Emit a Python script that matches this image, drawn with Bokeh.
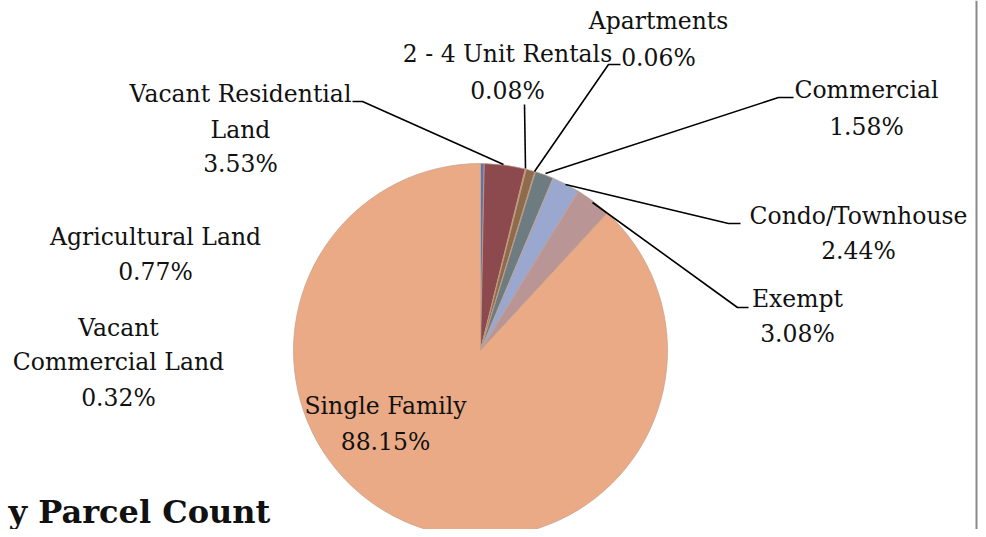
import numpy as np
from bokeh.plotting import figure
from bokeh.models import ColumnDataSource, Range1d
from bokeh.core.properties import value
from bokeh.embed import file_html
from bokeh.resources import INLINE

# ---- data (clockwise from 12 o'clock) ----
categories = ["Vacant Commercial Land", "Vacant Residential Land", "2 - 4 Unit Rentals",
              "Agricultural Land", "Apartments", "Commercial", "Condo/Townhouse",
              "Exempt", "Single Family"]
percents = [0.32, 3.53, 0.08, 0.77, 0.06, 1.58, 2.44, 3.08, 88.15]
colors = ["#5E73B0", "#8C4A4E", "#C9782F", "#8E6B4A", "#5F7D55", "#6D7C80",
          "#9AA7CF", "#B99596", "#EAAA86"]
title_text = "y Parcel Count"

W, H = 978, 529
SCR_H = 537  # picture height; data y = SCR_H - picture_y


def sy(y):
    return SCR_H - y


p = figure(width=W, height=H, output_backend="svg", toolbar_location=None,
           x_range=Range1d(0, W), y_range=Range1d(sy(H), sy(0)),
           min_border=0, min_border_left=0, min_border_right=0,
           min_border_top=0, min_border_bottom=0)
p.axis.visible = False
p.grid.visible = False
p.outline_line_color = None
p.background_fill_color = "white"
p.border_fill_color = "white"

# ---- pie ----
vals = np.array(percents, dtype=float)
frac = vals / vals.sum()
cum = np.concatenate([[0.0], np.cumsum(frac)])
start = np.pi / 2 - cum[:-1] * 2 * np.pi
end = np.pi / 2 - cum[1:] * 2 * np.pi
cx, cy, r = 480, sy(350), 187
src = ColumnDataSource(dict(start=start, end=end, color=colors, cat=categories))
p.wedge(x=cx, y=cy, radius=r, start_angle="start", end_angle="end",
        direction="clock", fill_color="color", line_color="#c4a08c",
        line_width=1, line_alpha=0.7, source=src)

# ---- leader lines (picture coords) ----
leaders = {
    "Vacant Residential Land": [(352, 101), (362, 101), (503, 164)],
    "2 - 4 Unit Rentals": [(524, 104), (525, 168)],
    "Apartments": [(620, 64), (608, 64), (534, 171)],
    "Commercial": [(793, 97), (778, 97), (545, 173)],
    "Condo/Townhouse": [(740, 223), (728, 223), (565, 184)],
    "Exempt": [(748, 307), (737, 307), (592, 202)],
}
for pts in leaders.values():
    p.line([q[0] for q in pts], [sy(q[1]) for q in pts], line_color="black", line_width=1.6)

# ---- labels ----
label_pos = {
    "Apartments": (658, [20, 57], ["Apartments"]),
    "2 - 4 Unit Rentals": (507, [53, 90], ["2 - 4 Unit Rentals"]),
    "Vacant Residential Land": (240, [93, 129, 163], ["Vacant Residential", "Land"]),
    "Commercial": (866, [89, 126], ["Commercial"]),
    "Condo/Townhouse": (858, [215, 250], ["Condo/Townhouse"]),
    "Exempt": (797, [298, 333], ["Exempt"]),
    "Agricultural Land": (155, [236, 271], ["Agricultural Land"]),
    "Vacant Commercial Land": (118, [327, 361, 397], ["Vacant", "Commercial Land"]),
    "Single Family": (385, [405, 441], ["Single Family"]),
}
xs, ys, txts = [], [], []
for cat, pct in zip(categories, percents):
    lx, lys, lines = label_pos[cat]
    lines = lines + [f"{pct:.2f}%"]
    for yy, t in zip(lys, lines):
        xs.append(lx)
        ys.append(sy(yy))
        txts.append(t)
p.text(x=xs, y=ys, text=txts, text_font=value("DejaVu Serif"), text_font_size="23.5px",
       text_align="center", text_baseline="middle", text_color="#111111")

# ---- heading at bottom (cut by the page in the original) ----
p.text(x=[8], y=[sy(511)], text=[title_text], text_font=value("DejaVu Serif"),
       text_font_size="32px", text_font_style="bold", text_align="left",
       text_baseline="alphabetic", text_color="#111111")

# ---- right page border line ----
p.line([976, 976], [sy(0), sy(540)], line_color="#8a8a8a", line_width=2)

open("out.html", "w").write(file_html(p, INLINE))
